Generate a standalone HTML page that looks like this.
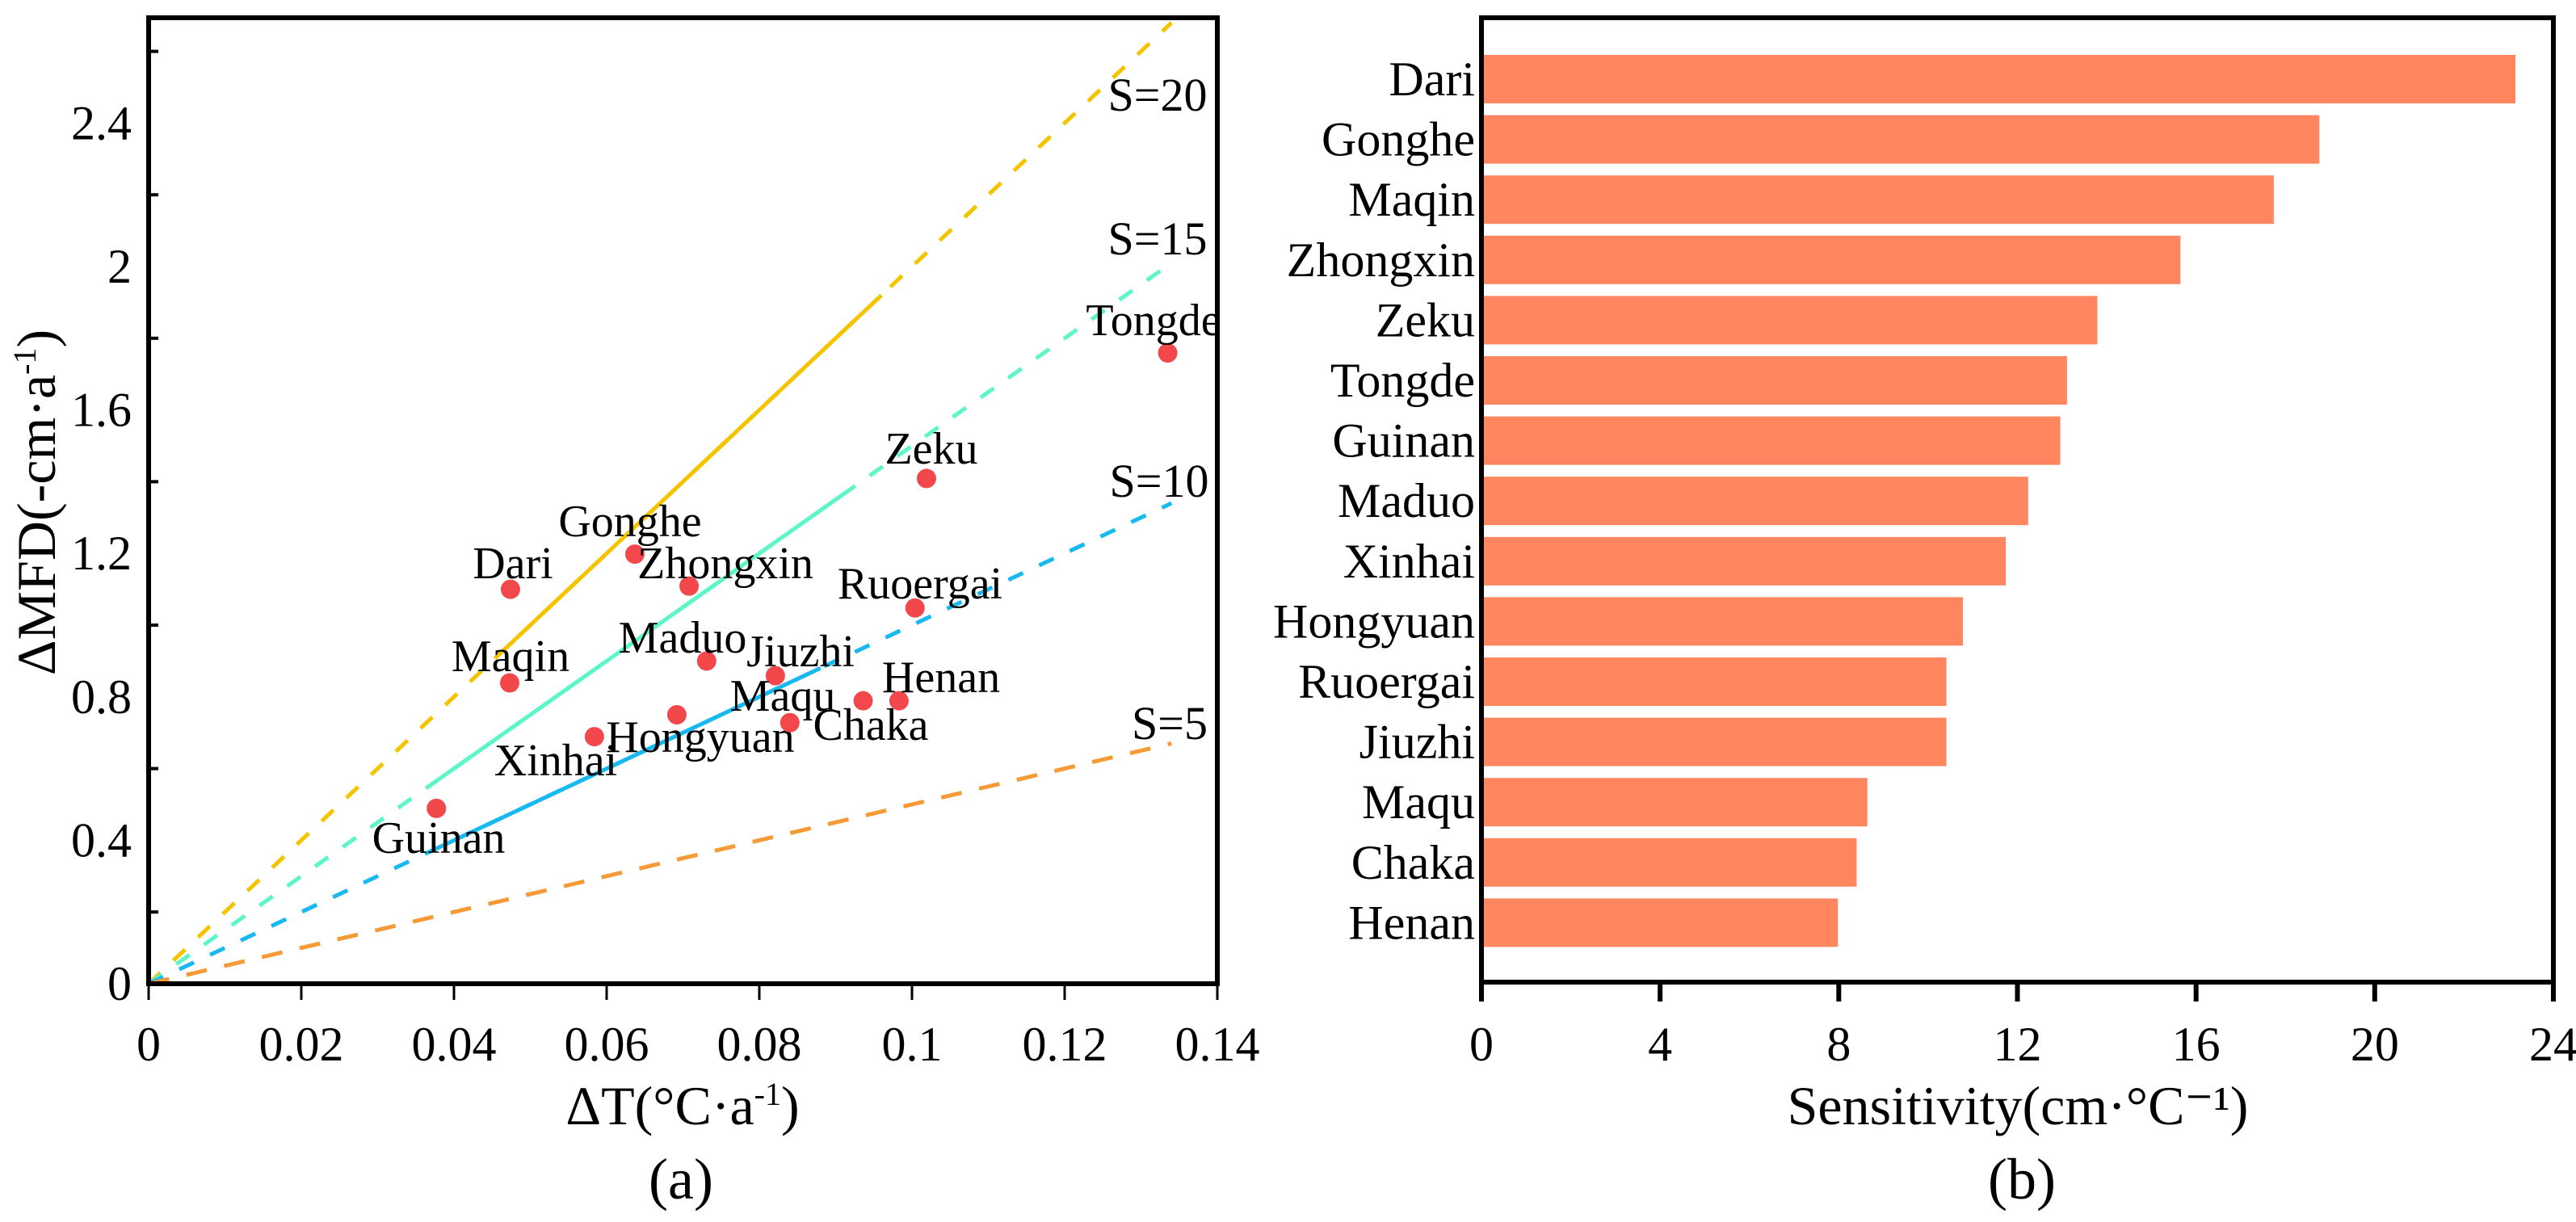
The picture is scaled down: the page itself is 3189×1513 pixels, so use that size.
<!DOCTYPE html>
<html><head><meta charset="utf-8"><style>
html,body{margin:0;padding:0;background:#fff;}
svg{display:block;}
text{font-family:"Liberation Serif","Times New Roman",serif;}
</style></head><body>
<svg id="fig" width="3189" height="1513" viewBox="0 0 3189 1513" xmlns="http://www.w3.org/2000/svg" font-family="Liberation Serif, Times New Roman, serif">
<g id="pa"></g>
<g id="pb"></g>
</svg>
<script>
// Panel (a) data
const stations = ["Dari","Gonghe","Zhongxin","Maqin","Maduo","Jiuzhi","Ruoergai","Zeku","Tongde","Hongyuan","Xinhai","Maqu","Henan","Chaka","Guinan"];
const dT = [0.0474,0.0637,0.0708,0.0473,0.0731,0.0821,0.1004,0.1019,0.1335,0.0692,0.0584,0.0936,0.0983,0.084,0.0377];
const dMFD = [1.10,1.198,1.109,0.839,0.90,0.859,1.048,1.409,1.759,0.75,0.689,0.789,0.789,0.728,0.489];
const labelPos = [[635,716],[780,664],[898,716],[632,831],[845,808],[991,825],[1139,741],[1153,574],[1428,415],[867,931],[688,960],[969,880],[1165,857],[1078,916],[543,1056]];
const sValues = [20,15,10,5];
const sColors = ["#f5c400","#5ef5c8","#18b8f0","#f59a35"];
const sSolid = [[0.046,0.096],[0.0366,0.092],[0.0366,0.088],null];
const xTicksA = [0,0.02,0.04,0.06,0.08,0.1,0.12,0.14];
const xTickLabelsA = ["0","0.02","0.04","0.06","0.08","0.1","0.12","0.14"];
const yTicksA = [0,0.4,0.8,1.2,1.6,2,2.4];
const yTickLabelsA = ["0","0.4","0.8","1.2","1.6","2","2.4"];
// Panel (b) data
const barNames = ["Dari","Gonghe","Maqin","Zhongxin","Zeku","Tongde","Guinan","Maduo","Xinhai","Hongyuan","Ruoergai","Jiuzhi","Maqu","Chaka","Henan"];
const sensitivity = [23.15,18.76,17.74,15.65,13.79,13.11,12.96,12.24,11.74,10.78,10.41,10.41,8.64,8.4,7.98];
const xTicksB = [0,4,8,12,16,20,24];

const NS="http://www.w3.org/2000/svg";
const FF="Liberation Serif, Times New Roman, serif";
function mk(parent,tag,attrs,text){const e=document.createElementNS(NS,tag);for(const k in attrs)e.setAttribute(k,attrs[k]);if(tag==='text')e.setAttribute('font-family',FF);if(text!==undefined)e.textContent=text;parent.appendChild(e);return e;}

// ---- Panel A ----
const pa=document.getElementById('pa');
const AX0=184,AX1=1507,AY0=1218,AY1=22;
const xA=v=>AX0+(v/0.14)*(AX1-AX0);
const yA=v=>AY0-v*444;
sValues.forEach((s,i)=>{
  const xe=0.134;
  let ln=mk(pa,'line',{x1:xA(0),y1:yA(0),x2:xA(xe),y2:yA(s*xe),stroke:sColors[i],'stroke-width':5,'stroke-dasharray':i===3?'26,22':'20,22'});
  
  
  if(sSolid[i]){
    const a=sSolid[i][0],b=sSolid[i][1];
    let sl=mk(pa,'line',{x1:xA(a),y1:yA(s*a),x2:xA(b),y2:yA(s*b),stroke:sColors[i],'stroke-width':5});
    
    
  }
});
const sLab=[[1433,137],[1433,315],[1435,615],[1448,915]];
sValues.forEach((s,i)=>{
  let t=mk(pa,'text',{x:sLab[i][0],y:sLab[i][1],'font-size':58,'text-anchor':'middle'},'S='+s);
  
  
});
stations.forEach((n,i)=>{
  let c=mk(pa,'circle',{cx:xA(dT[i]),cy:yA(dMFD[i]),r:12,fill:'#f2484b'});
  
  
  let t=mk(pa,'text',{x:labelPos[i][0],y:labelPos[i][1],'font-size':56,'text-anchor':'middle'},n);
  
  
});
let boxA=mk(pa,'rect',{x:AX0,y:AY1,width:AX1-AX0,height:AY0-AY1,fill:'none',stroke:'#000','stroke-width':6});


xTicksA.forEach((v,i)=>{
  let tk=mk(pa,'line',{x1:xA(v),y1:AY0,x2:xA(v),y2:AY0+20,stroke:'#000','stroke-width':3});
  
  
  let t=mk(pa,'text',{x:xA(v),y:1313,'font-size':60,'text-anchor':'middle'},xTickLabelsA[i]);
  
  
});
for(let v=0.2;v<2.7;v+=0.4){
  let tk=mk(pa,'line',{x1:AX0,y1:yA(v),x2:AX0+12,y2:yA(v),stroke:'#000','stroke-width':4});
  
  
}
yTicksA.forEach((v,i)=>{
  let t=mk(pa,'text',{x:163,y:yA(v)+20,'font-size':60,'text-anchor':'end'},yTickLabelsA[i]);
  
  
});
let xt=mk(pa,'text',{x:845,y:1392,'font-size':68,'text-anchor':'middle'});


xt.innerHTML='ΔT(°C·a<tspan dy="-24" font-size="40">-1</tspan><tspan dy="24">)</tspan>';
let yt=mk(pa,'text',{x:0,y:0,'font-size':68,'text-anchor':'middle',transform:'translate(68,622) rotate(-90)'});


yt.innerHTML='ΔMFD(-cm·a<tspan dy="-24" font-size="40">-1</tspan><tspan dy="24">)</tspan>';
let la=mk(pa,'text',{x:843,y:1484,'font-size':72,'text-anchor':'middle'},'(a)');



// ---- Panel B ----
const pb=document.getElementById('pb');
const BX0=1834,BX1=3161,BY0=1216,BY1=22;
const xB=v=>BX0+(v/24)*(BX1-BX0);
const bandTop=68,pitch=74.6,barH=60;
barNames.forEach((n,i)=>{
  const y=bandTop+i*pitch;
  let r=mk(pb,'rect',{x:xB(0),y:y,width:xB(sensitivity[i])-xB(0),height:barH,fill:'#ff865f'});
  
  
  let t=mk(pb,'text',{x:1826,y:y+barH/2+20,'font-size':60,'text-anchor':'end'},n);
  
  
});
let boxB=mk(pb,'rect',{x:BX0,y:BY1,width:BX1-BX0,height:BY0-BY1,fill:'none',stroke:'#000','stroke-width':6});


xTicksB.forEach(v=>{
  let tk=mk(pb,'line',{x1:xB(v),y1:BY0,x2:xB(v),y2:BY0+24,stroke:'#000','stroke-width':6});
  
  
  let t=mk(pb,'text',{x:xB(v),y:1313,'font-size':60,'text-anchor':'middle'},String(v));
  
  
});
let xtb=mk(pb,'text',{x:2498,y:1392,'font-size':68,'text-anchor':'middle'},'Sensitivity(cm·°C⁻¹)');


let lb=mk(pb,'text',{x:2503,y:1484,'font-size':72,'text-anchor':'middle'},'(b)');


</script>
</body></html>
